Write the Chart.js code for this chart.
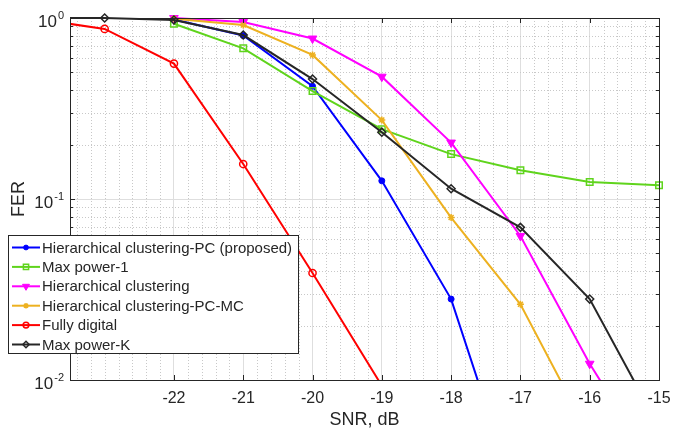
<!DOCTYPE html>
<html>
<head>
<meta charset="utf-8">
<script src="https://cdn.jsdelivr.net/npm/chart.js@4.4.1/dist/chart.umd.min.js"></script>
<style>
  html, body { margin: 0; padding: 0; background: #fff; }
  #wrap { width: 689px; height: 431px; }
</style>
</head>
<body>
<div id="wrap"><canvas id="fer" width="689" height="431"></canvas></div>
<script>
// SNR points (dB) and FER per scheme
const snr        = [-24,  -23,   -22,   -21,   -20,   -19,    -18,    -17,    -16,    -15];
const hcPC       = [null, null,  0.98,  0.80,  0.42,  0.126,  0.028,  0.0019, null,   null];
const maxPower1  = [null, null,  0.93,  0.68,  0.395, 0.243,  0.177,  0.144,  0.124,  0.119];
const hc         = [null, null,  1.0,   0.95,  0.77,  0.474,  0.205,  0.0625, 0.0123, 0.003];
const hcPCMC     = [null, null,  0.99,  0.915, 0.625, 0.273,  0.079,  0.0262, 0.0049, null];
const fullyDig   = [0.99, 0.87,  0.56,  0.156, 0.039, 0.0093, null,   null,   null,   null];
const maxPowerK  = [1.0,  1.0,   0.975, 0.805, 0.46,  0.234,  0.114,  0.0697, 0.028,  0.0055];

const names = [
  'Hierarchical clustering-PC (proposed)',
  'Max power-1',
  'Hierarchical clustering',
  'Hierarchical clustering-PC-MC',
  'Fully digital',
  'Max power-K'
];
const series = [hcPC, maxPower1, hc, hcPCMC, fullyDig, maxPowerK];

const xTicks = [-22, -21, -20, -19, -18, -17, -16, -15];
const yTicks = [0.01, 0.1, 1];
const yTickExp = ['-2', '-1', '0'];

const FONT = "'Liberation Sans', Arial, Helvetica, sans-serif";
const AXIS = '#262626';

// marker look per series
const looks = [
  { color: '#0000ff', style: 'circle',   radius: 3,   rot: 0,   fill: '#0000ff',     bw: 1 },
  { color: '#5fd41c', style: 'rect',     radius: 4.6, rot: 0,   fill: 'rgba(0,0,0,0)', bw: 1.5 },
  { color: '#ff00ff', style: 'triangle', radius: 5,   rot: 180, fill: '#ff00ff',     bw: 1 },
  { color: '#edb120', style: 'star',     radius: 3.5, rot: 0,   fill: 'rgba(0,0,0,0)', bw: 1.5 },
  { color: '#ff0000', style: 'circle',   radius: 3.6, rot: 0,   fill: 'rgba(0,0,0,0)', bw: 1.5 },
  { color: '#262626', style: 'rectRot',  radius: 4,   rot: 0,   fill: 'rgba(0,0,0,0)', bw: 1.5 }
];

function toPoints(vals) {
  const pts = [];
  vals.forEach((v, i) => { if (v !== null) pts.push({ x: snr[i], y: v }); });
  return pts;
}

const datasets = series.map((vals, i) => ({
  label: names[i],
  data: toPoints(vals),
  borderColor: looks[i].color,
  borderWidth: 2,
  pointStyle: looks[i].style,
  pointRadius: looks[i].radius,
  pointRotation: looks[i].rot,
  pointBackgroundColor: looks[i].fill,
  pointBorderColor: looks[i].color,
  pointBorderWidth: looks[i].bw,
  tension: 0,
  order: series.length - i,
  clip: { left: 0, top: false, right: false, bottom: 0 }
}));

function seg(ctx, x1, y1, x2, y2) {
  ctx.beginPath();
  ctx.moveTo(x1, y1);
  ctx.lineTo(x2, y2);
  ctx.stroke();
}

const extras = {
  id: 'extras',
  beforeDatasetsDraw(chart) {
    const { ctx, chartArea: a, scales: { x, y } } = chart;
    ctx.save();
    ctx.strokeStyle = '#c8c8c8';
    ctx.lineWidth = 1;
    ctx.setLineDash([1, 2]);
    // minor x grid every 0.2 dB
    for (let k = -234; k <= -150; k += 2) {
      if (k % 10 === 0 && xTicks.includes(k / 10)) continue;
      const px = Math.round(x.getPixelForValue(k / 10)) + 0.5;
      seg(ctx, px, a.top, px, a.bottom);
    }
    // minor y grid 2..9 per decade
    [0.01, 0.1].forEach(d => {
      for (let m = 2; m <= 9; m++) {
        const py = Math.round(y.getPixelForValue(m * d)) + 0.5;
        seg(ctx, a.left, py, a.right, py);
      }
    });
    ctx.restore();
  },
  afterDatasetsDraw(chart) {
    const { ctx, chartArea: a, scales: { x, y } } = chart;
    ctx.save();
    ctx.strokeStyle = AXIS;
    ctx.lineWidth = 1;
    // axes box
    ctx.strokeRect(Math.round(a.left) + 0.5, Math.round(a.top) + 0.5,
                   Math.round(a.right - a.left), Math.round(a.bottom - a.top));
    // inward tick marks
    xTicks.forEach(v => {
      const px = Math.round(x.getPixelForValue(v)) + 0.5;
      seg(ctx, px, a.bottom, px, a.bottom - 5);
      seg(ctx, px, a.top, px, a.top + 5);
    });
    yTicks.forEach(v => {
      const py = Math.round(y.getPixelForValue(v)) + 0.5;
      seg(ctx, a.left, py, a.left + 5, py);
      seg(ctx, a.right, py, a.right - 5, py);
    });
    [0.01, 0.1].forEach(d => {
      for (let m = 2; m <= 9; m++) {
        const py = Math.round(y.getPixelForValue(m * d)) + 0.5;
        seg(ctx, a.left, py, a.left + 3, py);
        seg(ctx, a.right, py, a.right - 3, py);
      }
    });

    // y tick labels 10^n
    ctx.fillStyle = AXIS;
    ctx.textBaseline = 'alphabetic';
    ctx.textAlign = 'left';
    yTicks.forEach((v, i) => {
      const py = y.getPixelForValue(v);
      ctx.font = '11px ' + FONT;
      const ew = ctx.measureText(yTickExp[i]).width;
      ctx.font = '17px ' + FONT;
      const bw = ctx.measureText('10').width;
      const right = 64;
      ctx.fillText('10', right - ew - bw - 1, py + 9);
      ctx.font = '11px ' + FONT;
      ctx.fillText(yTickExp[i], right - ew, py + 1);
    });

    // legend
    const lx = 8.5, ly = 235.5, lw = 290, lh = 118, row = 19.4;
    ctx.fillStyle = '#fff';
    ctx.fillRect(lx, ly, lw, lh);
    ctx.strokeStyle = AXIS;
    ctx.strokeRect(lx, ly, lw, lh);
    ctx.font = '15px ' + FONT;
    ctx.textBaseline = 'middle';
    names.forEach((n, i) => {
      const cy = 247.5 + i * row;
      const L = looks[i];
      ctx.strokeStyle = L.color;
      ctx.lineWidth = 2;
      seg(ctx, 12, cy, 40, cy);
      ctx.fillStyle = L.fill;
      ctx.lineWidth = L.bw;
      if (Chart.helpers && Chart.helpers.drawPoint) {
        Chart.helpers.drawPoint(ctx, {
          pointStyle: L.style, rotation: L.rot, radius: L.radius * 0.8, borderWidth: L.bw
        }, 26, cy);
      }
      ctx.fillStyle = AXIS;
      ctx.fillText(n, 42, cy + 1);
    });
    ctx.restore();
  }
};

new Chart(document.getElementById('fer'), {
  type: 'line',
  data: { datasets },
  plugins: [extras],
  options: {
    responsive: false,
    animation: false,
    layout: { padding: { top: 18, right: 30, left: 0, bottom: 0 } },
    plugins: { legend: { display: false }, tooltip: { enabled: false } },
    scales: {
      x: {
        type: 'linear',
        min: -23.5,
        max: -15,
        afterBuildTicks: s => { s.ticks = xTicks.map(v => ({ value: v })); },
        afterFit: s => { s.height = 51; },
        grid: { color: '#dedede', drawTicks: false },
        border: { display: false },
        ticks: {
          padding: 9, color: AXIS, autoSkip: false, maxRotation: 0,
          font: { family: FONT, size: 16 },
          callback: v => String(v)
        },
        title: {
          display: true, text: 'SNR, dB', color: AXIS,
          font: { family: FONT, size: 18 }, padding: { top: 0, bottom: 0 }
        }
      },
      y: {
        type: 'logarithmic',
        min: 0.01,
        max: 1,
        afterBuildTicks: s => { s.ticks = yTicks.map(v => ({ value: v })); },
        afterFit: s => { s.width = 70; },
        grid: { color: '#dedede', drawTicks: false },
        border: { display: false },
        ticks: { display: false },
        title: {
          display: true, text: 'FER', color: AXIS,
          font: { family: FONT, size: 18 }, padding: { top: 8, bottom: 0 }
        }
      }
    }
  }
});
</script>
</body>
</html>
